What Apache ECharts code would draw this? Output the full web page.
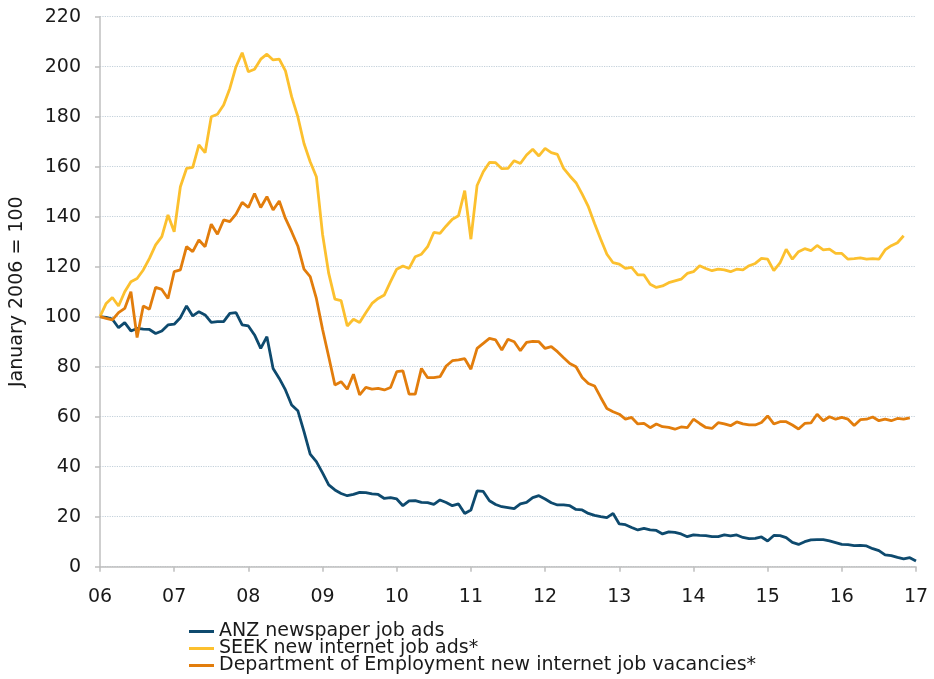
<!DOCTYPE html>
<html>
<head>
<meta charset="utf-8">
<title>Job ads</title>
<script src="https://cdn.jsdelivr.net/npm/echarts@6/dist/echarts.min.js"></script>
<style>
    html, body { margin: 0; padding: 0; background: #fff; }
    #jobadschart { width: 934px; height: 679px; }
</style>
</head>
<body>
<div id="jobadschart"></div>
<script>
// x tick labels (one per January)
var tickLabels = ['06', '07', '08', '09', '10', '11', '12', '13', '14', '15', '16', '17'];

// ANZ newspaper job ads, monthly from Jan 2006
var anzAds = [
    100, 99.7, 99, 95.6, 97.6, 94.3, 95.3, 95, 94.9, 93.3, 94.3, 96.7,
    97, 99.6, 104.3, 100.3, 102, 100.7, 97.7, 98, 98, 101.3, 101.6, 96.7,
    96.3, 92.7, 87.3, 92, 79.3, 75.3, 70.7, 64.7, 62.4, 54, 45, 42,
    37.5, 32.7, 30.7, 29.3, 28.4, 28.9, 29.7, 29.6, 29.1, 28.9, 27.3, 27.6,
    27.1, 24.4, 26.3, 26.4, 25.7, 25.6, 24.9, 26.7, 25.7, 24.4, 25.1, 21.3,
    22.7, 30.3, 30.1, 26.4, 24.9, 24, 23.6, 23.2, 25.1, 25.7, 27.6, 28.4,
    27.1, 25.6, 24.7, 24.7, 24.4, 22.9, 22.7, 21.3, 20.5, 20, 19.6, 21.3,
    17.1, 16.8, 15.7, 14.7, 15.3, 14.7, 14.5, 13.1, 13.9, 13.7, 13.1, 12,
    12.7, 12.5, 12.4, 12, 12, 12.7, 12.3, 12.7, 11.7, 11.2, 11.3, 11.9,
    10.3, 12.5, 12.4, 11.6, 9.7, 8.9, 10, 10.7, 10.8, 10.8, 10.3, 9.6,
    8.9, 8.8, 8.4, 8.5, 8.3, 7.2, 6.4, 4.7, 4.4, 3.7, 3.1, 3.6,
    2.3
];

// SEEK new internet job ads
var seekAds = [
    100, 105.3, 107.7, 104.3, 110, 114, 115.3, 118.7, 123.3, 128.7, 132, 140.7,
    134, 152, 159.3, 159.7, 168.7, 165.6, 180, 181, 184.7, 191.3, 200, 205.6,
    198, 199, 203, 205, 202.7, 203, 198.3, 188, 180, 169.3, 162, 156,
    133, 117.3, 107, 106.4, 96.3, 99, 97.7, 101.6, 105.3, 107.3, 108.7, 114,
    119, 120.3, 119.3, 124, 125, 128, 133.7, 133.3, 136.3, 139, 140.4, 150.4,
    131, 152.5, 158, 161.7, 161.6, 159.2, 159.3, 162.4, 161.3, 164.7, 167, 164.3,
    167.3, 165.6, 164.9, 159.3, 156.3, 153.6, 149, 144, 137.3, 131, 125, 121.6,
    121, 119.3, 119.7, 116.7, 116.7, 113, 111.7, 112.3, 113.6, 114.3, 115, 117.3,
    118, 120.4, 119.3, 118.4, 119, 118.7, 118, 119, 118.7, 120.4, 121.3, 123.3,
    123, 118.4, 121.5, 127, 123, 126, 127.2, 126.4, 128.5, 126.7, 127, 125.3,
    125.3, 123, 123.2, 123.5, 123, 123.2, 123, 126.7, 128.4, 129.6, 132.4
];

// Department of Employment new internet job vacancies
var deptVacancies = [
    100, 99.3, 98.7, 101.6, 103.3, 110, 91.7, 104.3, 103, 111.7, 110.9, 107.3,
    118, 118.7, 128, 126, 130.7, 128, 137, 133, 138.7, 138, 141, 145.7,
    143.7, 149.3, 143.7, 148, 142.7, 146.3, 139.3, 134, 128.3, 119, 116, 107.3,
    95, 84, 72.7, 74, 71, 77, 68.7, 71.7, 71, 71.3, 70.7, 71.7,
    78, 78.3, 69, 69, 79.3, 75.6, 75.6, 76, 80.3, 82.4, 82.7, 83.2,
    79, 87.3, 89.3, 91.3, 90.7, 86.7, 91, 90, 86.4, 89.7, 90.1, 90,
    87.3, 88, 86, 83.6, 81.3, 80, 75.7, 73.3, 72.3, 67.7, 63.3, 62,
    61, 59, 59.7, 57.1, 57.3, 55.6, 57.1, 56, 55.7, 55, 55.9, 55.6,
    59, 57.3, 55.7, 55.3, 57.6, 57.1, 56.4, 57.9, 57.1, 56.7, 56.7, 57.7,
    60.3, 57.1, 58, 58, 56.7, 55.1, 57.3, 57.5, 61, 58.4, 60, 59,
    59.7, 59, 56.5, 58.8, 59, 59.9, 58.4, 59, 58.4, 59.3, 59, 59.5
];

var seriesNames = [
    'ANZ newspaper job ads',
    'SEEK new internet job ads*',
    'Department of Employment new internet job vacancies*'
];

// months Jan 2006 .. Jan 2017
var months = [];
for (var i = 0; i < anzAds.length; i++) {
    var yr = 2006 + Math.floor(i / 12);
    var mo = (i % 12) + 1;
    months.push(yr + '-' + (mo < 10 ? '0' + mo : mo));
}

var font = 'DejaVu Sans';
var fontSize = 19;
var axisGrey = '#bfbfbf';
var textColor = '#1a1a1a';

function lineSeries(name, data, color) {
    return {
        name: name,
        type: 'line',
        data: data,
        symbol: 'none',
        smooth: false,
        lineStyle: { color: color, width: 2.8 },
        itemStyle: { color: color }
    };
}

// one legend per row so the rows stack tight like the original
function legendRow(name, top) {
    return {
        orient: 'vertical',
        left: 189,
        top: top,
        padding: 0,
        itemWidth: 25,
        itemHeight: 3,
        icon: 'rect',
        textStyle: { fontFamily: font, fontSize: fontSize, color: textColor, lineHeight: 18 },
        data: [name]
    };
}

var myChart = echarts.init(document.getElementById('jobadschart'));
var option = {
    animation: false,
    backgroundColor: '#fff',
    textStyle: { fontFamily: font, color: textColor },
    grid: {
        left: 91,
        right: 18,
        top: 16.7,
        bottom: 112.3
    },
    legend: [
        legendRow(seriesNames[0], 622),
        legendRow(seriesNames[1], 639),
        legendRow(seriesNames[2], 656)
    ],
    xAxis: {
        type: 'category',
        data: months,
        boundaryGap: false,
        axisLine: { lineStyle: { color: axisGrey, width: 1.5 } },
        axisTick: { interval: 11, length: 5, lineStyle: { color: axisGrey, width: 1.5 } },
        axisLabel: {
            interval: 11,
            margin: 21,
            fontSize: fontSize,
            fontFamily: font,
            color: textColor,
            formatter: function (value, index) {
                return tickLabels[Math.floor(index / 12)];
            }
        },
        splitLine: { show: false }
    },
    yAxis: {
        type: 'value',
        min: 0,
        max: 220,
        interval: 20,
        name: 'January 2006 = 100',
        nameLocation: 'middle',
        nameRotate: 90,
        nameGap: 73,
        nameTextStyle: { fontFamily: font, fontSize: fontSize, color: textColor },
        axisLine: { show: true, lineStyle: { color: axisGrey, width: 1.5 } },
        axisTick: { show: true, length: 5, lineStyle: { color: axisGrey, width: 1.5 } },
        axisLabel: { margin: 19, fontSize: fontSize, fontFamily: font, color: textColor },
        splitLine: { lineStyle: { color: '#c3d0da', type: 'dotted', width: 1.2 } }
    },
    series: [
        lineSeries(seriesNames[0], anzAds, '#0e4a6e'),
        lineSeries(seriesNames[1], seekAds, '#fcc02e'),
        lineSeries(seriesNames[2], deptVacancies, '#e27d0c')
    ]
};
myChart.setOption(option);
</script>
</body>
</html>
